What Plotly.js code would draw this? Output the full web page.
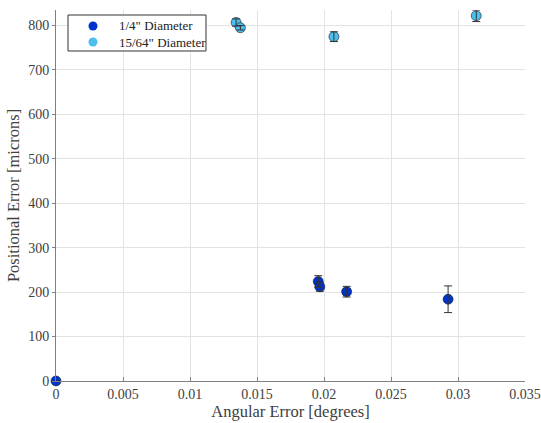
<!DOCTYPE html>
<html>
<head>
<meta charset="utf-8">
<script src="https://cdn.plot.ly/plotly-3.0.1.min.js"></script>
<style>html,body{margin:0;padding:0;background:#fff;}#chart{width:541px;height:423px;}</style>
</head>
<body>
<div id="chart"></div>
<script>
// 1/4" Diameter
const quarterX = [0, 0.01957, 0.01969, 0.02169, 0.02926];
const quarterY = [0, 224, 212, 201, 184];
const quarterErr = [0, 13, 10, 12, 30];
// 15/64" Diameter
const sixtyFourX = [0.01344, 0.01376, 0.02074, 0.03136];
const sixtyFourY = [807, 795, 775, 822];
const sixtyFourErr = [8, 5, 11, 13];
const seriesNames = ['1/4" Diameter', '15/64" Diameter'];
const seriesColors = ['#0033CC', '#4DBEEE'];

const fontFam = 'Liberation Serif, Times New Roman, serif';

function errBar(arr) {
  return {type: 'data', array: arr, visible: true, color: '#333333', thickness: 1, width: 4};
}

const traces = [
  {
    x: quarterX, y: quarterY, type: 'scatter', mode: 'markers',
    name: seriesNames[0],
    marker: {color: seriesColors[0], size: 10, line: {color: '#1a1a1a', width: 0.6}},
    cliponaxis: false
  },
  {
    x: sixtyFourX, y: sixtyFourY, type: 'scatter', mode: 'markers',
    name: seriesNames[1],
    marker: {color: seriesColors[1], size: 10, line: {color: '#1a1a1a', width: 0.6}},
    cliponaxis: false
  },
  {
    x: quarterX, y: quarterY, type: 'scatter', mode: 'markers',
    showlegend: false, hoverinfo: 'skip',
    error_y: errBar(quarterErr),
    marker: {size: 1, opacity: 0},
    cliponaxis: false
  },
  {
    x: sixtyFourX, y: sixtyFourY, type: 'scatter', mode: 'markers',
    showlegend: false, hoverinfo: 'skip',
    error_y: errBar(sixtyFourErr),
    marker: {size: 1, opacity: 0},
    cliponaxis: false
  }
];

// Manual legend (paper coordinates of the plot area)
const legX0 = 0.0256, legX1 = 0.3198, legY0 = 0.8895, legY1 = 0.9865;
const legMarkX = 0.0789, legTextX = 0.130;
const legRowY = [0.9569, 0.9137];

const shapes = [
  {type: 'rect', xref: 'paper', yref: 'paper', x0: legX0, x1: legX1, y0: legY0, y1: legY1,
   line: {color: '#333333', width: 1}, fillcolor: '#ffffff', layer: 'above'}
];
const annotations = [];
seriesNames.forEach((nm, i) => {
  shapes.push({type: 'circle', xref: 'paper', yref: 'paper',
    xsizemode: 'pixel', ysizemode: 'pixel', xanchor: legMarkX, yanchor: legRowY[i],
    x0: -4.5, x1: 4.5, y0: -4.5, y1: 4.5,
    fillcolor: seriesColors[i], line: {width: 0}, layer: 'above'});
  annotations.push({xref: 'paper', yref: 'paper', x: legTextX, y: legRowY[i],
    xanchor: 'left', yanchor: 'middle', showarrow: false, text: nm,
    font: {family: fontFam, size: 13, color: '#222222'}});
});

const layout = {
  width: 541, height: 423,
  margin: {l: 56, r: 16, t: 10, b: 42},
  paper_bgcolor: '#ffffff', plot_bgcolor: '#ffffff',
  font: {family: fontFam, size: 14, color: '#404040'},
  showlegend: false,
  shapes: shapes,
  annotations: annotations,
  xaxis: {
    range: [0, 0.035], dtick: 0.005, tick0: 0,
    showgrid: true, gridcolor: '#e3e3e3', gridwidth: 1,
    zeroline: false, showline: true, linecolor: '#808080', linewidth: 1,
    ticks: 'inside', ticklen: 4, tickcolor: '#808080',
    tickfont: {family: fontFam, size: 14, color: '#404040'},
    tickformat: '~g',
    title: {text: 'Angular Error [degrees]', font: {family: fontFam, size: 16.5, color: '#404040'}, standoff: 4},
    mirror: false
  },
  yaxis: {
    range: [0, 835], dtick: 100, tick0: 0,
    showgrid: true, gridcolor: '#e3e3e3', gridwidth: 1,
    zeroline: false, showline: true, linecolor: '#808080', linewidth: 1,
    ticks: 'outside', ticklen: 3, tickcolor: '#808080',
    tickfont: {family: fontFam, size: 14, color: '#404040'},
    title: {text: 'Positional Error [microns]', font: {family: fontFam, size: 16.5, color: '#404040'}, standoff: 4},
    mirror: false
  }
};

Plotly.newPlot('chart', traces, layout, {displayModeBar: false, staticPlot: true});
</script>
</body>
</html>
